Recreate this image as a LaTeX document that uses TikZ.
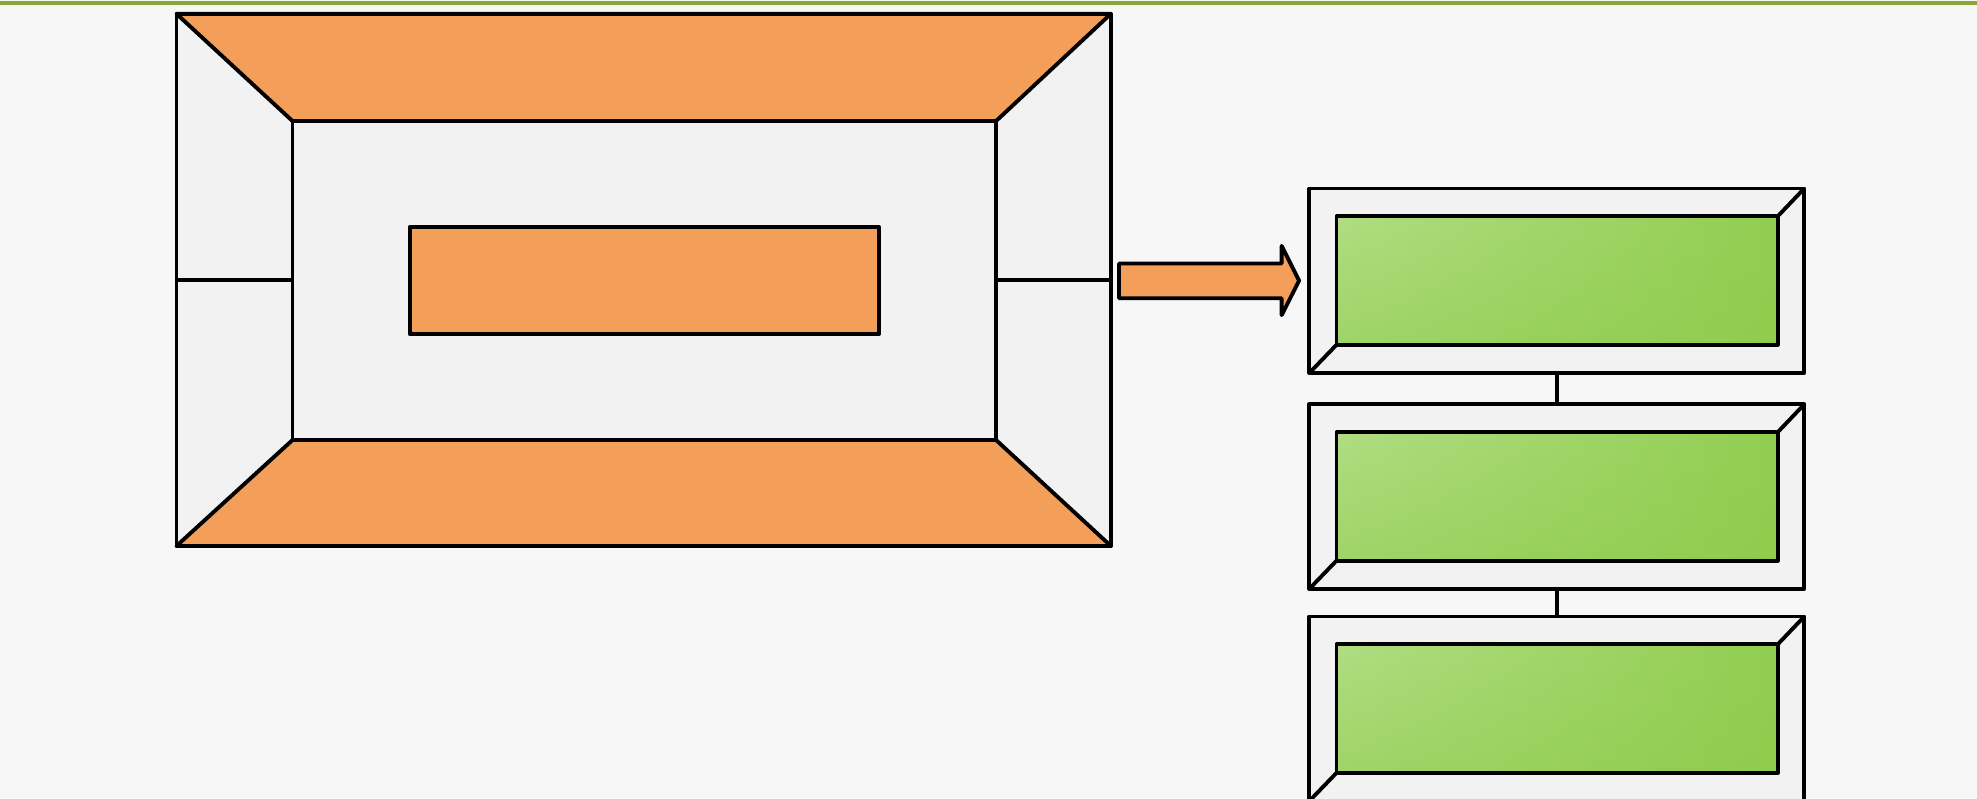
\documentclass[tikz,border=0pt]{standalone}
\usetikzlibrary{fit,fadings}
\definecolor{bg}{HTML}{F7F7F7}
\definecolor{topline}{HTML}{8CA53A}
\definecolor{orng}{HTML}{F49F59}
\definecolor{panel}{HTML}{F2F2F2}
\definecolor{glight}{HTML}{B0DD82}
\definecolor{gdark}{HTML}{92CE51}
\definecolor{gbot}{HTML}{8CCA48}
\begin{document}
\begin{tikzpicture}[x=0.012608cm,y=-0.012608cm, line width=1.1pt, line join=round,
  ol/.style={draw=black, line width=1.1pt},
  graybox/.style={ol, fill=panel, inner sep=0pt, outer sep=0pt},
  orangebox/.style={ol, fill=orng, inner sep=0pt, outer sep=0pt},
  greenbox/.style={inner sep=0pt, outer sep=0pt, left color=glight, right color=gdark},
  conn/.style={draw=black, line width=1.1pt}]
\fill[bg] (0,0) rectangle (1568,633.7);
\useasboundingbox (0,0) rectangle (1568,633.7);
\draw[topline, line width=1.2pt] (0,2.5) -- (1568,2.5);

% left frame
\coordinate (oTL) at (140,11);
\coordinate (oTR) at (881,11);
\coordinate (oBR) at (881,433);
\coordinate (oBL) at (140,433);
\coordinate (iTL) at (232,96);
\coordinate (iTR) at (790,96);
\coordinate (iBR) at (790,349);
\coordinate (iBL) at (232,349);
\node[graybox, fit={(oTL)(oBR)}] (frame) {};
\filldraw[orangebox] (oTL) -- (oTR) -- (iTR) -- (iTL) -- cycle;
\filldraw[orangebox] (iBL) -- (iBR) -- (oBR) -- (oBL) -- cycle;
\node[graybox, fit={(iTL)(iBR)}] (inner) {};
\coordinate (ml) at (140,222);
\coordinate (mr) at (881,222);
\draw[conn] (ml) -- (ml -| inner.west);
\draw[conn] (inner.east |- mr) -- (mr);
\node[orangebox, fit={(325,180)(697,265)}] (core) {};

% arrow
\filldraw[orangebox] (887.5,209) -- (1016.5,209) -- (1016.5,195) -- (1030.3,222.6) -- (1016.5,250) -- (1016.5,236.6) -- (887.5,236.6) -- cycle;

% right boxes
\foreach \n/\t in {1/149.5, 2/320.7, 3/489} {
  \node[graybox, fit={(1038.5,\t)(1431,\t+146.3)}] (b\n) {};
  \node[greenbox, fit={(1060,\t+22)(1410,\t+124)}] (g\n) {};
  \fill[gbot, path fading=north, opacity=0.45] (g\n.south west) rectangle (g\n.north east);
  \draw[conn] (g\n.south west) rectangle (g\n.north east);
  \draw[conn] (b\n.north east) -- (g\n.north east);
  \draw[conn] (b\n.south west) -- (g\n.south west);
}
\draw[conn] (b1.south) -- (b2.north);
\draw[conn] (b2.south) -- (b3.north);
\end{tikzpicture}
\end{document}
